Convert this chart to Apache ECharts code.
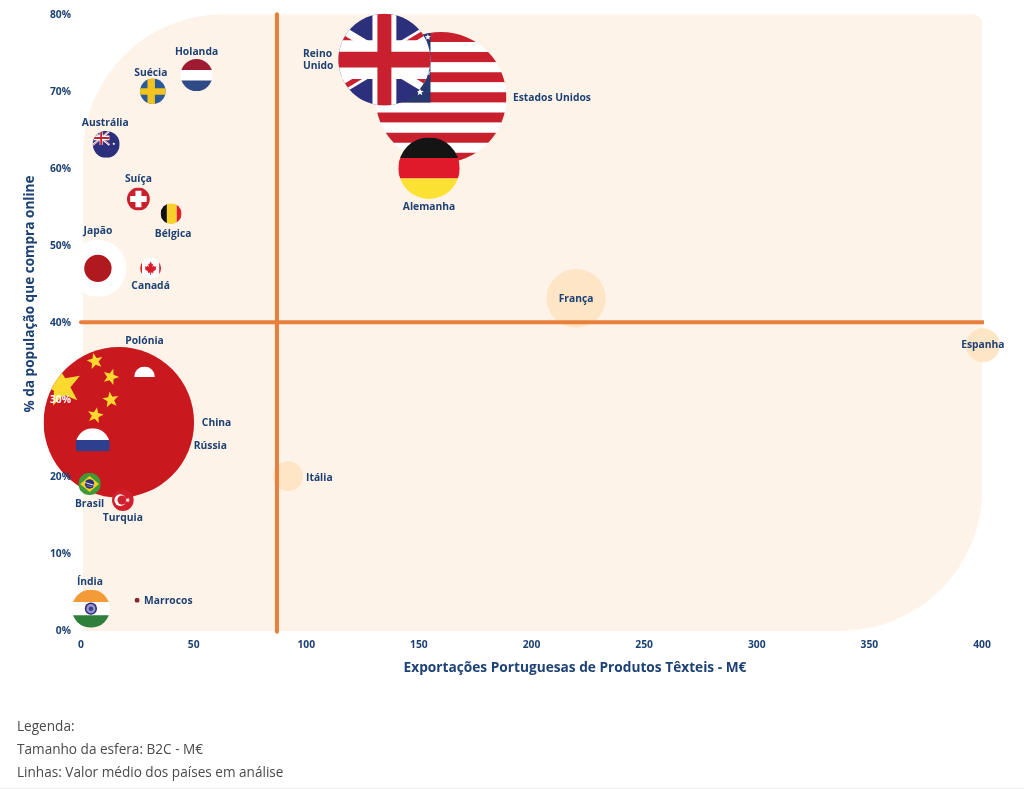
<!DOCTYPE html>
<html lang="pt">
<head>
<meta charset="utf-8">
<title>Exportações Portuguesas de Produtos Têxteis</title>
<style>html,body{margin:0;padding:0;background:#fff}#c{width:1024px;height:789px}</style>
<script src="https://cdn.jsdelivr.net/npm/echarts@6/dist/echarts.min.js"></script>
</head>
<body>
<div id="c"></div>
<script>
const paises = ['França','Espanha','Itália','Holanda','Suécia','Austrália','Suíça','Bélgica','Japão','Canadá','Estados Unidos','Reino Unido','Alemanha','China','Polónia','Rússia','Brasil','Turquia','Índia','Marrocos'];
const exportacoes = [219.8,400.4,91.9,51.3,31.9,11.2,25.5,40,7.5,30.9,159.8,134.7,154.5,16.8,28.2,5.2,3.8,18.6,4.4,24.9];
const populacao = [43.2,37.1,20.1,72.2,70.1,63.2,56.1,54.2,47.1,47.1,69.3,74.2,60.1,27.1,33,24.1,19.1,17,2.9,4];
const b2c = [139,46,36,41,26.4,29,21,17.6,130,17.6,686,338,151,906,17,47,20,19,58,1];
const mediaExportacoes = 87;
const mediaPopulacao = 40.1;
const ticksX = [0,50,100,150,200,250,300,350,400];
const ticksY = [0,10,20,30,40,50,60,70,80];
const esferasPalidas = ['França','Espanha','Itália'];
const legenda = ['Legenda:','Tamanho da esfera: B2C - M€','Linhas: Valor médio dos países em análise'];

const NAVY = '#1d4174', ORANGE = '#e8803c', FONT = '"Open Sans", sans-serif';
const raio = v => Math.sqrt(v) * 2.5;
const linhas = paises.map((p, i) => [exportacoes[i], populacao[i], b2c[i], p]);

const R = (x, y, w, h, fill) => ({type:'rect', shape:{x, y, width:w, height:h}, style:{fill}});
const C = (cx, cy, r, fill) => ({type:'circle', shape:{cx, cy, r}, style:{fill}});
const L = (x1, y1, x2, y2, stroke, lineWidth) => ({type:'line', shape:{x1, y1, x2, y2}, style:{stroke, lineWidth}});
const P = (points, fill) => ({type:'polygon', shape:{points}, style:{fill}});
function star(cx, cy, r, rot, fill) {
  const pts = [];
  for (let i = 0; i < 10; i++) {
    const rad = i % 2 ? r * 0.42 : r;
    const a = -Math.PI / 2 + rot * Math.PI / 180 + i * Math.PI / 5;
    pts.push([cx + rad * Math.cos(a), cy + rad * Math.sin(a)]);
  }
  return P(pts, fill);
}
function unionJack(hw, hh, k) {
  const b = '#2c2f7c', r = '#c8202f', w = '#fff', o = 3.2 * k;
  return [
    R(-hw, -hh, 2 * hw, 2 * hh, b),
    L(-hw, -hh, hw, hh, w, 17 * k), L(-hw, hh, hw, -hh, w, 17 * k),
    L(-hw, -hh + o, 0, o, r, 5.5 * k), L(0, -o, hw, hh - o, r, 5.5 * k),
    L(-hw, hh + o, 0, o, r, 5.5 * k), L(0, -o, hw, -hh - o, r, 5.5 * k),
    R(-13 * k, -hh, 26 * k, 2 * hh, w), R(-hw, -21 * k, 2 * hw, 42 * k, w),
    R(-7.6 * k, -hh, 15.2 * k, 2 * hh, r), R(-hw, -8.5 * k, 2 * hw, 17 * k, r)
  ];
}
const leaf = [[0,-32],[-7,-20],[-12,-23],[-9,-6],[-16,-13],[-18,-8],[-28,-10],[-24,0],[-28,3],[-12,16],[-14,22],[-2,20],[-2,32],[2,32],[2,20],[14,22],[12,16],[28,3],[24,0],[28,-10],[18,-8],[16,-13],[9,-6],[12,-23],[7,-20]];
const bandeiras = {
  'Holanda': () => [R(-50,-50,100,34,'#9e1b32'), R(-50,-16,100,33,'#fff'), R(-50,17,100,33,'#2f4a86')],
  'Suécia': () => [R(-50,-50,100,100,'#2a5a9a'), R(-21,-50,29,100,'#f3c320'), R(-50,-12,100,26,'#f3c320')],
  'Austrália': () => [R(-50,-50,100,100,'#2c2f7c'), {type:'group', x:-19, y:-24, scaleX:.62, scaleY:.62, children:unionJack(50,42,.7)}, star(28,-2,6,0,'#fff')],
  'Suíça': () => [R(-50,-50,100,100,'#c8202d'), R(-13,-36,26,72,'#fff'), R(-36,-13,72,26,'#fff')],
  'Bélgica': () => [R(-50,-50,30,100,'#111'), R(-20,-50,47,100,'#f7d02c'), R(27,-50,23,100,'#e0202e')],
  'Japão': () => [R(-50,-50,100,100,'#fff'), C(0,0,24,'#b0191e')],
  'Canadá': () => [R(-50,-50,100,100,'#fff'), R(-50,-50,9,100,'#d8202c'), R(41,-50,9,100,'#d8202c'), P(leaf,'#d8202c')],
  'Estados Unidos': () => {
    const out = [], h = 100 / 13;
    for (let i = 0; i < 13; i++) out.push(R(-50, -50 + i * h, 100, h + (i < 12 ? .2 : 0), i % 2 ? '#fff' : '#c8202d'));
    out.push(R(-50,-50,42,7 * h,'#26386f'));
    out.push(star(-16,-4,3,0,'#fff'), star(-10,-46,2.5,0,'#fff'), star(-10,-19,2.5,0,'#fff'));
    return out;
  },
  'Reino Unido': () => unionJack(83.3,50,1),
  'Alemanha': () => [R(-50,-50,100,33.4,'#141414'), R(-50,-16.6,100,33.2,'#e11a2b'), R(-50,16.6,100,33.4,'#fbe232')],
  'China': () => {
    const y = '#fbd92e';
    return [R(-50,-50,100,100,'#c9191f'), star(-38,-24,14,-12,y), star(-15.8,-40.6,5.6,-12,y), star(-5.4,-30.2,5.6,18,y), star(-5.4,-15,5.6,-8,y), star(-15.6,-4.6,5.6,12,y)];
  },
  'Polónia': () => [R(-50,-50,100,50,'#fff'), R(-50,0,100,50,'#c9191f')],
  'Rússia': () => [R(-50,-50,100,34,'#fff'), R(-50,-16,100,33,'#2f3f8f'), R(-50,17,100,33,'#c9191f')],
  'Brasil': () => [R(-50,-50,100,100,'#3f9a3a'), P([[-42,0],[0,-36],[42,0],[0,36]],'#f5d020'), C(0,0,21,'#2c2f7c'), L(-20,-6,20,6,'#fff',4), L(-12,8,10,12,'#ddd',2)],
  'Turquia': () => [R(-50,-50,100,100,'#d0202c'), C(-12,0,27,'#fff'), C(-4,0,21,'#d0202c'), star(22,0,12,90,'#fff')],
  'Índia': () => [R(-50,-50,100,33,'#f39b38'), R(-50,-17,100,34,'#fff'), R(-50,17,100,33,'#2f7f3a'), C(0,0,16,'#2a2a80'), C(0,0,12,'#9a9ac8'), C(0,0,6,'#3c3f8f')],
  'Marrocos': () => [R(-50,-50,100,100,'#8b2330')]
};
const rotulos = {
  'França':[0,1,'center'],'Espanha':[0,0,'center'],'Itália':[18,2,'left'],'Holanda':[0,-23,'center'],'Suécia':[-2,-18,'center'],
  'Austrália':[-1,-21,'center'],'Suíça':[0,-20,'center'],'Bélgica':[2,20,'center'],'Japão':[0,-37,'center'],'Canadá':[0,18,'center'],
  'Estados Unidos':[72,1,'left'],'Reino Unido':[-81.5,0,'left'],'Alemanha':[0,39,'center'],'China':[83,1,'left'],'Polónia':[0,-36,'center'],
  'Rússia':[101,1,'left'],'Brasil':[0,20,'center'],'Turquia':[0,18,'center'],'Índia':[-1,-27,'center'],'Marrocos':[7,1,'left']
};

function renderEsfera(pal) {
  return function (params, api) {
    const nome = paises[params.dataIndex];
    const isPal = esferasPalidas.includes(nome);
    if (isPal !== pal) return null;
    const p = api.coord([api.value(0), api.value(1)]);
    const r = raio(api.value(2));
    if (pal) return {type:'circle', shape:{cx:p[0], cy:p[1], r}, style:{fill:'#fee5c6'}};
    const s = r / 50;
    return {type:'group', x:p[0], y:p[1], scaleX:s, scaleY:s,
      clipPath:{type:'circle', shape:{cx:0, cy:0, r:50}},
      children:bandeiras[nome]()};
  };
}

const chart = echarts.init(document.getElementById('c'), null, {renderer:'canvas'});
chart.setOption({
  animation:false,
  backgroundColor:'#fff',
  textStyle:{fontFamily:FONT},
  grid:{left:81, top:15, width:901, height:616, containLabel:false},
  xAxis:{type:'value', min:ticksX[0], max:ticksX[ticksX.length-1], interval:ticksX[1]-ticksX[0], z:10,
    axisLine:{show:false}, axisTick:{show:false}, splitLine:{show:false},
    axisLabel:{color:NAVY, fontFamily:FONT, fontWeight:700, fontSize:10.3, margin:9, showMinLabel:true, showMaxLabel:true},
    name:'Exportações Portuguesas de Produtos Têxteis - M€', nameLocation:'middle', nameGap:30,
    nameTextStyle:{color:NAVY, fontFamily:FONT, fontWeight:700, fontSize:13.7, padding:[0,0,0,87]}},
  yAxis:{type:'value', min:ticksY[0], max:ticksY[ticksY.length-1], interval:ticksY[1]-ticksY[0], z:10,
    axisLine:{show:false}, axisTick:{show:false}, splitLine:{show:false},
    axisLabel:{formatter:'{value}%', fontFamily:FONT, fontWeight:700, fontSize:10.3, margin:10, padding:[4,0,0,0], showMinLabel:true, showMaxLabel:true,
      color:v => Number(v) === 30 ? '#fff' : NAVY},
    name:'% da população que compra online', nameLocation:'middle', nameGap:44, nameRotate:90,
    nameTextStyle:{color:NAVY, fontFamily:FONT, fontWeight:700, fontSize:13.6, padding:[0,0,0,58]}},
  graphic:[
    ...legenda.map((t, i) => ({type:'text', left:17, top:720 + i * 23.2, z:20,
      style:{text:t, fill:'#4a4a4a', font:'13.6px ' + FONT}})),
    {type:'rect', left:0, top:788, shape:{width:1024, height:1}, style:{fill:'#ececec'}, z:1}
  ],
  series:[
    {type:'custom', z:1, silent:true, clip:false, data:[[400,80]],
      renderItem:(params, api) => {
        const a = api.coord([0.9, 80.1]), b = api.coord([400.2, 0]);
        return {type:'rect', shape:{x:a[0], y:a[1], width:b[0]-a[0], height:b[1]-a[1], r:[140,10,142,0]}, style:{fill:'#fef3e8'}};
      }},
    {type:'custom', z:2, silent:true, clip:false, data:linhas, encode:{x:0,y:1}, renderItem:renderEsfera(true)},
    {type:'line', z:3, silent:true, clip:false, symbol:'none', data:[[mediaExportacoes,-0.1],[mediaExportacoes,80.1]],
      lineStyle:{color:ORANGE, width:4, cap:'round'}},
    {type:'line', z:3, silent:true, clip:false, symbol:'none', data:[[0,mediaPopulacao],[400.5,mediaPopulacao]],
      lineStyle:{color:ORANGE, width:4, cap:'round'}},
    {type:'custom', z:4, silent:true, clip:false, data:linhas, encode:{x:0,y:1}, renderItem:renderEsfera(false)},
    {type:'custom', z:5, silent:true, clip:false, data:linhas, encode:{x:0,y:1},
      renderItem:(params, api) => {
        const nome = paises[params.dataIndex], o = rotulos[nome];
        const p = api.coord([api.value(0), api.value(1)]);
        return {type:'text', x:p[0] + o[0], y:p[1] + o[1], style:{
          text:nome === 'Reino Unido' ? 'Reino\nUnido' : nome, fill:NAVY,
          font:'700 10.3px ' + FONT, textAlign:o[2], textVerticalAlign:'middle', lineHeight:12}};
      }}
  ]
});
</script>
</body>
</html>
